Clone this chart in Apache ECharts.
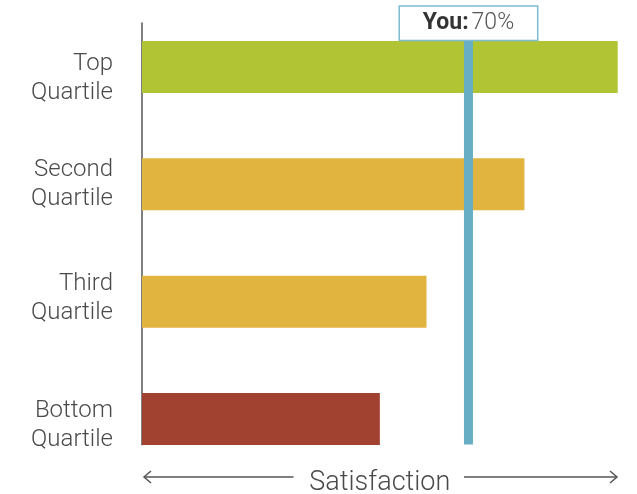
<!DOCTYPE html>
<html>
<head>
<meta charset="utf-8">
<style>
  html, body { margin: 0; padding: 0; background: #fff; }
  #chart { width: 637px; height: 494px; }
</style>
<script src="https://cdn.jsdelivr.net/npm/echarts@6/dist/echarts.min.js"></script>
</head>
<body>
<div id="chart"></div>
<script>
// Satisfaction by quartile, with the respondent's own score marked
const categories = ['Top\nQuartile', 'Second\nQuartile', 'Third\nQuartile', 'Bottom\nQuartile'];
const satisfaction = [102, 82, 61, 51];
const barColors = ['#b1c534', '#e1b440', '#e1b440', '#a14231'];
const youValue = 70;
const axisTitle = 'Satisfaction';

// vertical nudge (px) of each category label relative to its bar
const labelNudge = [12, 0, -3, 6];

const FONT = 'Roboto, "Noto Sans", sans-serif';
const TEXT = '#4a4a4a';
const X_MAX = 102;
const GRID_LEFT = 142;
const GRID_RIGHT = 19.3;

const chart = echarts.init(document.getElementById('chart'), null, { renderer: 'canvas' });

// label text style, plus one thin spacer line per label that shifts the centred block
const labelBase = { fontFamily: FONT, fontWeight: 300, fontSize: 24, lineHeight: 29, color: TEXT, align: 'right' };
const labelRich = { t: labelBase };
labelNudge.forEach((d, i) => {
  labelRich['s' + i] = { fontSize: 1, lineHeight: Math.max(1, 2 * Math.abs(d)), color: 'rgba(0,0,0,0)' };
});

chart.setOption({
  animation: false,
  backgroundColor: '#ffffff',
  textStyle: { fontFamily: FONT },
  grid: [
    { left: GRID_LEFT, right: GRID_RIGHT, top: 8.33, bottom: 16.33, outerBoundsMode: 'none', containLabel: false },
    { left: GRID_LEFT, right: GRID_RIGHT, top: 23.3, bottom: 49.5, outerBoundsMode: 'none', containLabel: false }
  ],
  xAxis: [
    {
      gridIndex: 0, type: 'value', min: 0, max: X_MAX,
      axisLine: { show: false }, axisTick: { show: false },
      axisLabel: { show: false }, splitLine: { show: false },
      name: axisTitle, nameLocation: 'middle', nameGap: -8,
      nameTextStyle: { fontFamily: FONT, fontWeight: 300, fontSize: 27, color: TEXT }
    },
    {
      gridIndex: 1, type: 'value', min: 0, max: X_MAX, show: false
    }
  ],
  yAxis: [
    {
      gridIndex: 0, type: 'category', inverse: true, data: categories,
      axisLine: { show: false }, axisTick: { show: false }, splitLine: { show: false },
      axisLabel: {
        margin: 29, fontFamily: FONT, fontWeight: 300, fontSize: 24,
        lineHeight: 29, color: TEXT, align: 'right',
        formatter: (value, index) => {
          const body = value.split('\n').map(t => '{t|' + t + '}').join('\n');
          const d = labelNudge[index];
          if (d > 0) return '{s' + index + '| }\n' + body;
          if (d < 0) return body + '\n{s' + index + '| }';
          return body;
        },
        rich: labelRich
      }
    },
    {
      gridIndex: 1, type: 'value', min: 0, max: 1,
      axisLine: { show: true, lineStyle: { color: '#808080', width: 2 } },
      axisTick: { show: false }, axisLabel: { show: false }, splitLine: { show: false }
    }
  ],
  series: [
    {
      type: 'bar',
      xAxisIndex: 0, yAxisIndex: 0,
      barWidth: 52,
      data: satisfaction.map((v, i) => ({ value: v, itemStyle: { color: barColors[i] } })),
      z: 2
    },
    {
      name: 'You',
      type: 'line',
      xAxisIndex: 1, yAxisIndex: 1,
      data: [[youValue, 0], [youValue, 1]],
      symbol: 'none',
      lineStyle: { color: '#67aec5', width: 9, cap: 'butt' },
      z: 5,
      markPoint: {
        z: 10,
        symbol: 'circle',
        symbolSize: 0,
        label: {
          show: true,
          position: 'inside',
          width: 137,
          height: 33,
          lineHeight: 33,
          align: 'center',
          verticalAlign: 'middle',
          backgroundColor: '#ffffff',
          borderColor: '#7cbbd0',
          borderWidth: 1.5,
          padding: 0,
          formatter: () => '{b|You}{b|:} {n|' + youValue + '%}',
          rich: {
            b: { fontFamily: FONT, fontWeight: 'bold', fontSize: 23, color: '#333333' },
            n: { fontFamily: FONT, fontWeight: 300, fontSize: 23, color: '#555555' }
          }
        },
        data: [{ coord: [youValue, 1] }]
      }
    }
  ],
  graphic: [
    // left arrow of the axis title
    { type: 'line', shape: { x1: 144, y1: 477, x2: 293.5, y2: 477 }, style: { stroke: '#555', lineWidth: 1.5 } },
    { type: 'polyline', shape: { points: [[151, 471], [144, 477], [151, 483]] }, style: { stroke: '#555', lineWidth: 1.5, fill: null } },
    // right arrow of the axis title
    { type: 'line', shape: { x1: 464, y1: 477, x2: 617, y2: 477 }, style: { stroke: '#555', lineWidth: 1.5 } },
    { type: 'polyline', shape: { points: [[610, 471], [617, 477], [610, 483]] }, style: { stroke: '#555', lineWidth: 1.5, fill: null } }
  ]
});
</script>
</body>
</html>
